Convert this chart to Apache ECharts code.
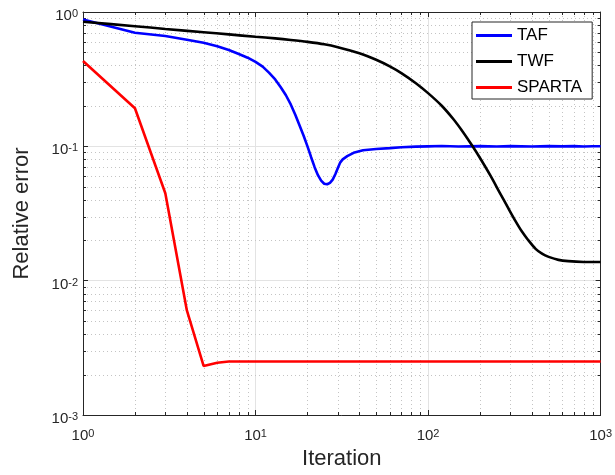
<!DOCTYPE html>
<html>
<head>
<meta charset="utf-8">
<title>Relative error</title>
<script src="https://cdn.jsdelivr.net/npm/echarts@6/dist/echarts.min.js"></script>
<style>
html, body { margin: 0; padding: 0; background: #fff; }
#chart { width: 615px; height: 475px; }
</style>
</head>
<body>
<div id="chart"></div>
<script>
// values
const tafIter = [1, 2, 3, 4, 5, 6, 7, 8, 9, 10, 11, 12, 13, 14, 15, 16, 17, 18, 19, 20,
  21, 22, 23, 24, 25, 26, 27, 28, 29, 30, 31, 32, 34, 37, 42, 50, 60, 70, 85, 100,
  120, 150, 200, 250, 300, 400, 500, 600, 700, 800, 900, 1000];
const tafErr = [0.88, 0.70, 0.662, 0.622, 0.59, 0.557, 0.522, 0.487, 0.457, 0.425,
  0.392, 0.352, 0.315, 0.275, 0.240, 0.205, 0.172, 0.143, 0.120, 0.100,
  0.083, 0.070, 0.061, 0.0555, 0.0527, 0.0522, 0.0535, 0.0565, 0.062, 0.069,
  0.076, 0.080, 0.0845, 0.0895, 0.0935, 0.0955, 0.097, 0.0985, 0.0995, 0.1,
  0.1005, 0.0998, 0.1003, 0.0997, 0.1004, 0.0998, 0.1003, 0.0999, 0.1004, 0.0998, 0.1002, 0.1001];

const twfIter = [1, 2, 3, 5, 7, 10, 13, 16, 20, 25, 30, 40, 50, 60, 70, 85, 100, 120, 140, 160,
  180, 200, 230, 260, 290, 320, 350, 380, 420, 460, 500, 570, 650, 800, 1000];
const twfErr = [0.847, 0.784, 0.748, 0.707, 0.681, 0.654, 0.636, 0.619, 0.599, 0.575, 0.547, 0.493,
  0.441, 0.394, 0.351, 0.295, 0.249, 0.2006, 0.1597, 0.1269,
  0.1014, 0.0819, 0.0605, 0.0453, 0.0351, 0.0280, 0.0232, 0.0201, 0.01725, 0.0158,
  0.01504, 0.01428, 0.01397, 0.01378, 0.01376];

const spartaIter = [1, 2, 3, 4, 5, 6, 7, 8, 10, 20, 50, 100, 1000];
const spartaErr = [0.432, 0.192, 0.0447, 0.0060, 0.00232, 0.00245, 0.0025, 0.0025,
  0.0025, 0.0025, 0.0025, 0.0025, 0.0025];

// minor tick positions (dotted grid)
const xMinorTicks = [2, 3, 4, 5, 6, 7, 8, 9, 20, 30, 40, 50, 60, 70, 80, 90,
  200, 300, 400, 500, 600, 700, 800, 900];
const yMinorTicks = [0.002, 0.003, 0.004, 0.005, 0.006, 0.007, 0.008, 0.009,
  0.02, 0.03, 0.04, 0.05, 0.06, 0.07, 0.08, 0.09,
  0.2, 0.3, 0.4, 0.5, 0.6, 0.7, 0.8, 0.9];

const FONT = 'Liberation Sans, Arial, Helvetica, sans-serif';
const AXIS_COLOR = '#262626';

const pairs = (xs, ys) => xs.map((x, i) => [x, ys[i]]);

// 10^n labels
const powLabel = v => '{b|10}{s|' + Math.round(Math.log10(v)) + '}';
const powRich = {
  b: { fontSize: 15, color: AXIS_COLOR, fontFamily: FONT },
  s: { fontSize: 11, color: AXIS_COLOR, fontFamily: FONT, verticalAlign: 'top' },
};

// dotted minor grid + small inner ticks on every side
function renderMinor(params, api) {
  const cs = params.coordSys;
  const p = api.coord([api.value(0), api.value(1)]);
  const dot = { stroke: '#c4c4c4', lineWidth: 1, lineDash: [1, 3] };
  const tick = { stroke: AXIS_COLOR, lineWidth: 1 };
  if (api.value(2) === 0) {
    const x = Math.round(p[0]) + 0.5;
    const b = cs.y + cs.height;
    return {
      type: 'group',
      children: [
        { type: 'line', shape: { x1: x, y1: cs.y, x2: x, y2: b }, style: dot },
        { type: 'line', shape: { x1: x, y1: b, x2: x, y2: b - 3 }, style: tick },
        { type: 'line', shape: { x1: x, y1: cs.y, x2: x, y2: cs.y + 3 }, style: tick },
      ],
    };
  }
  const y = Math.round(p[1]) + 0.5;
  const r = cs.x + cs.width;
  return {
    type: 'group',
    children: [
      { type: 'line', shape: { x1: cs.x, y1: y, x2: r, y2: y }, style: dot },
      { type: 'line', shape: { x1: cs.x, y1: y, x2: cs.x + 3, y2: y }, style: tick },
      { type: 'line', shape: { x1: r, y1: y, x2: r - 3, y2: y }, style: tick },
    ],
  };
}

const minorData = xMinorTicks.map(v => [v, 1, 0]).concat(yMinorTicks.map(v => [1, v, 1]));

const boxAxis = {
  axisLine: { show: true, lineStyle: { color: AXIS_COLOR, width: 1 } },
  axisTick: { show: true, inside: true, length: 5, lineStyle: { color: AXIS_COLOR } },
  axisLabel: { show: false },
  splitLine: { show: false },
};

const lineSeries = (name, color, data, smooth) => ({
  name,
  type: 'line',
  data,
  symbol: 'none',
  smooth: smooth || false,
  z: 3,
  lineStyle: { color, width: 2.6 },
  itemStyle: { color },
});

const chart = echarts.init(document.getElementById('chart'));
chart.setOption({
  animation: false,
  backgroundColor: '#fff',
  grid: { left: 83, top: 12, width: 520, height: 403 },
  legend: {
    orient: 'vertical',
    left: 472,
    top: 22,
    data: ['TAF', 'TWF', 'SPARTA'],
    icon: 'rect',
    itemWidth: 36,
    itemHeight: 3,
    itemGap: 9,
    padding: [5, 10, 3, 4],
    backgroundColor: '#fff',
    borderColor: AXIS_COLOR,
    borderWidth: 1,
    borderRadius: 0,
    textStyle: { fontSize: 17, color: '#000', fontFamily: FONT },
  },
  xAxis: [
    {
      type: 'log',
      logBase: 10,
      min: 1,
      max: 1000,
      name: 'Iteration',
      nameLocation: 'middle',
      nameGap: 30,
      nameTextStyle: { fontSize: 22, color: AXIS_COLOR, fontFamily: FONT },
      axisLine: { show: true, onZero: false, lineStyle: { color: AXIS_COLOR, width: 1 } },
      axisTick: { show: true, inside: true, length: 5, lineStyle: { color: AXIS_COLOR } },
      axisLabel: { margin: 13, formatter: powLabel, rich: powRich },
      splitLine: { show: true, lineStyle: { color: '#e3e3e3', width: 1 } },
    },
    Object.assign({ type: 'log', logBase: 10, min: 1, max: 1000, position: 'top' }, boxAxis),
  ],
  yAxis: [
    {
      type: 'log',
      logBase: 10,
      min: 0.001,
      max: 1,
      name: 'Relative error',
      nameLocation: 'middle',
      nameGap: 50,
      nameTextStyle: { fontSize: 22, color: AXIS_COLOR, fontFamily: FONT },
      axisLine: { show: true, onZero: false, lineStyle: { color: AXIS_COLOR, width: 1 } },
      axisTick: { show: true, inside: true, length: 5, lineStyle: { color: AXIS_COLOR } },
      axisLabel: { margin: 5, padding: [8, 0, 0, 0], formatter: powLabel, rich: powRich },
      splitLine: { show: true, lineStyle: { color: '#e3e3e3', width: 1 } },
    },
    Object.assign({ type: 'log', logBase: 10, min: 0.001, max: 1, position: 'right' }, boxAxis),
  ],
  series: [
    {
      type: 'custom',
      silent: true,
      z: 1,
      clip: false,
      renderItem: renderMinor,
      encode: { x: 0, y: 1 },
      data: minorData,
    },
    lineSeries('TAF', '#0000ff', pairs(tafIter, tafErr)),
    lineSeries('TWF', '#000000', pairs(twfIter, twfErr), 0.25),
    lineSeries('SPARTA', '#ff0000', pairs(spartaIter, spartaErr)),
  ],
});
</script>
</body>
</html>
